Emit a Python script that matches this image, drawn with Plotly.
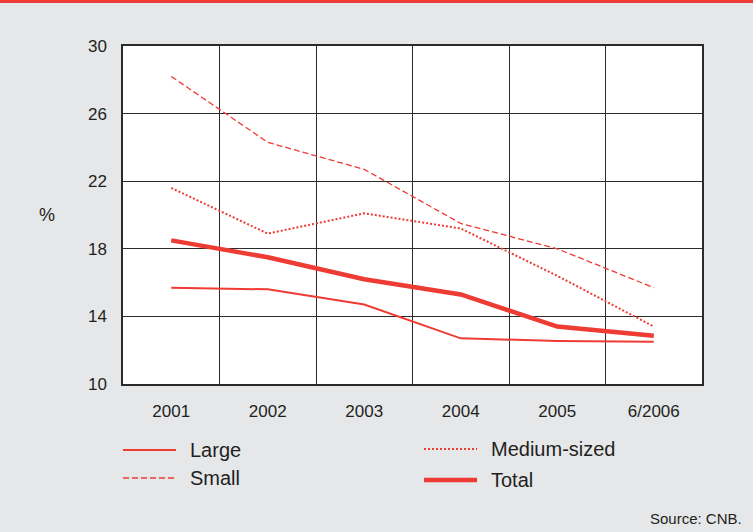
import plotly.graph_objects as go

categories = ["2001", "2002", "2003", "2004", "2005", "6/2006"]
large = [15.7, 15.6, 14.7, 12.7, 12.55, 12.5]
small = [28.2, 24.3, 22.7, 19.5, 18.0, 15.7]
medium = [21.6, 18.9, 20.1, 19.2, 16.4, 13.4]
total = [18.5, 17.5, 16.2, 15.3, 13.4, 12.85]
y_ticks = [10, 14, 18, 22, 26, 30]

RED = "#ee3b33"
BG = "#e6e7e9"
GRID = "#2b2b2b"
TEXT = "#231f20"
FONT = "Liberation Sans, Arial, sans-serif"

x = list(range(len(categories)))

fig = go.Figure()
fig.add_trace(go.Scatter(x=x, y=large, mode="lines", name="Large",
                         line=dict(color=RED, width=2)))
fig.add_trace(go.Scatter(x=x, y=small, mode="lines", name="Small",
                         line=dict(color=RED, width=1.3, dash="6px,3px")))
fig.add_trace(go.Scatter(x=x, y=medium, mode="lines", name="Medium-sized",
                         line=dict(color=RED, width=2, dash="2px,2px")))
fig.add_trace(go.Scatter(x=x, y=total, mode="lines", name="Total",
                         line=dict(color=RED, width=4.5)))

fig.update_layout(
    width=753, height=532,
    margin=dict(l=123, r=51, t=46, b=148),
    paper_bgcolor=BG, plot_bgcolor="white",
    showlegend=False,
    font=dict(family=FONT, size=17, color=TEXT),
)

fig.update_xaxes(
    range=[-0.5, len(categories) - 0.5],
    tickvals=x, ticktext=categories,
    showgrid=False, zeroline=False,
    ticks="outside", ticklen=11, tickcolor="rgba(0,0,0,0)",
    showline=True, linecolor=GRID, linewidth=1.5, mirror=True,
    minor=dict(tickvals=[i + 0.5 for i in x[:-1]], showgrid=True,
               gridcolor=GRID, gridwidth=1),
    fixedrange=True,
)
fig.update_yaxes(
    range=[10, 30], tickvals=y_ticks,
    showgrid=True, gridcolor=GRID, gridwidth=1, zeroline=False,
    ticks="outside", ticklen=11, tickcolor="rgba(0,0,0,0)",
    showline=True, linecolor=GRID, linewidth=1.5, mirror=True,
    fixedrange=True,
)


def px_x(px):
    return (px - 123) / 579


def px_y(py):
    return (384 - py) / 338


# red rule across the top
fig.add_shape(type="rect", xref="paper", yref="paper",
              x0=-1, x1=2, y0=px_y(3), y1=1.2, fillcolor=RED,
              line=dict(width=0), layer="below")

# axis unit
fig.add_annotation(text="%", xref="paper", yref="paper",
                   x=px_x(47), y=px_y(215), showarrow=False,
                   xanchor="center", yanchor="middle", font=dict(size=18))

# legend drawn in two columns
legend_items = [
    ("Large", dict(color=RED, width=2), 123, 450),
    ("Small", dict(color=RED, width=1.3, dash="6px,3px"), 123, 478),
    ("Medium-sized", dict(color=RED, width=2, dash="2px,2px"), 424, 449),
    ("Total", dict(color=RED, width=4.5), 424, 480),
]
for label, style, lx, ly in legend_items:
    fig.add_shape(type="line", xref="paper", yref="paper",
                  x0=px_x(lx), x1=px_x(lx + 53), y0=px_y(ly), y1=px_y(ly),
                  line=style)
    fig.add_annotation(text=label, xref="paper", yref="paper",
                       x=px_x(lx + 65), y=px_y(ly), showarrow=False,
                       xanchor="left", yanchor="middle",
                       font=dict(size=20, color=TEXT))

fig.add_annotation(text="Source: CNB.", xref="paper", yref="paper",
                   x=px_x(744), y=px_y(518), showarrow=False,
                   xanchor="right", yanchor="middle",
                   font=dict(size=15, color=TEXT))

fig.write_html("out.html")
